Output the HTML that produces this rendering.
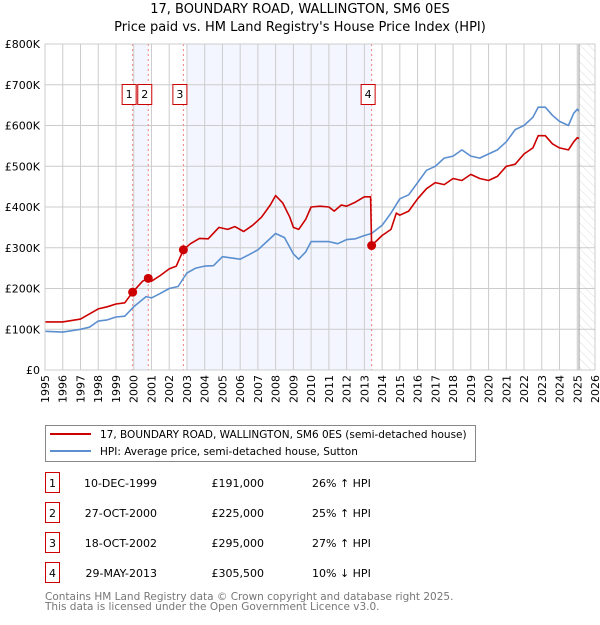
<!DOCTYPE html>
<html><head><meta charset="utf-8"><style>
body{margin:0;background:#fff;font-family:"Liberation Sans","DejaVu Sans",sans-serif;}
svg text{font-family:"DejaVu Sans","Liberation Sans",sans-serif;}
</style></head><body>
<svg id="c" width="600" height="620" xmlns="http://www.w3.org/2000/svg">
<defs><pattern id="hatch" width="6" height="6" patternUnits="userSpaceOnUse" patternTransform="rotate(-45)"><line x1="0" y1="0" x2="0" y2="6" stroke="#d4d4d4" stroke-width="0.8"/></pattern></defs>
<text x="300" y="13" text-anchor="middle" font-size="13">17, BOUNDARY ROAD, WALLINGTON, SM6 0ES</text>
<text x="300" y="31" text-anchor="middle" font-size="13">Price paid vs. HM Land Registry's House Price Index (HPI)</text>
<g id="plot"></g>
<g>
<rect x="45.5" y="425.5" width="430" height="36" fill="#fff" stroke="#888"/>
<line x1="50" y1="434" x2="91" y2="434" stroke="#cc0000" stroke-width="2"/>
<text x="100" y="438" font-size="10.5">17, BOUNDARY ROAD, WALLINGTON, SM6 0ES (semi-detached house)</text>
<line x1="50" y1="451" x2="91" y2="451" stroke="#5b8fd0" stroke-width="2"/>
<text x="100" y="455" font-size="10.5">HPI: Average price, semi-detached house, Sutton</text>
</g>
<g id="table" font-size="11"></g>
<text x="45" y="600" font-size="10.5" fill="#777">Contains HM Land Registry data © Crown copyright and database right 2025.</text>
<text x="45" y="610" font-size="10.5" fill="#777">This data is licensed under the Open Government Licence v3.0.</text>
</svg>
<script>
const hpiDates=[1995,1996,1997,1997.5,1998,1998.5,1999,1999.5,2000,2000.7,2001,2001.5,2002,2002.5,2003,2003.5,2004,2004.5,2005,2005.5,2006,2006.5,2007,2007.5,2008,2008.5,2009,2009.3,2009.7,2010,2011,2011.5,2012,2012.5,2013,2013.4,2014,2014.5,2015,2015.5,2016,2016.5,2017,2017.5,2018,2018.5,2019,2019.5,2020,2020.5,2021,2021.5,2022,2022.5,2022.8,2023.2,2023.6,2024,2024.5,2024.8,2025,2025.1];
const hpiValues=[95,93,100,105,120,123,130,132,155,180,177,188,200,205,238,250,255,256,278,275,272,283,295,315,335,325,285,272,290,315,315,310,320,322,330,335,355,385,420,430,460,490,500,520,525,540,525,520,530,540,560,590,600,620,645,645,625,610,600,630,640,635];
const propDates=[1995,1996,1997,1998,1998.5,1999,1999.5,1999.94,2000.5,2000.82,2001,2001.5,2002,2002.4,2002.8,2003.2,2003.7,2004.2,2004.8,2005.3,2005.7,2006.2,2006.7,2007.2,2007.7,2008,2008.4,2008.8,2009,2009.3,2009.7,2010,2010.5,2011,2011.3,2011.7,2012,2012.5,2013,2013.35,2013.41,2014,2014.5,2014.8,2015,2015.5,2016,2016.5,2017,2017.5,2018,2018.5,2019,2019.5,2020,2020.5,2021,2021.5,2022,2022.5,2022.8,2023.2,2023.6,2024,2024.5,2024.8,2025,2025.1];
const propValues=[118,118,125,150,155,162,165,191,218,225,218,232,248,255,295,310,323,322,350,345,352,340,355,375,405,428,410,375,350,345,370,400,402,400,390,405,402,412,425,425,305.5,330,345,385,380,390,420,445,460,455,470,465,480,470,465,475,500,505,530,545,575,575,555,545,540,560,570,568];
const saleLabels=["1","2","3","4"];
const saleDates=[1999.94,2000.82,2002.8,2013.41];
const saleValues=[191,225,295,305.5];
const saleDateText=["10-DEC-1999","27-OCT-2000","18-OCT-2002","29-MAY-2013"];
const salePriceText=["£191,000","£225,000","£295,000","£305,500"];
const saleHpiText=["26% ↑ HPI","25% ↑ HPI","27% ↑ HPI","10% ↓ HPI"];
const yTicks=[0,100,200,300,400,500,600,700,800];
const yTickLabels=["£0","£100K","£200K","£300K","£400K","£500K","£600K","£700K","£800K"];
const xTicks=[1995,1996,1997,1998,1999,2000,2001,2002,2003,2004,2005,2006,2007,2008,2009,2010,2011,2012,2013,2014,2015,2016,2017,2018,2019,2020,2021,2022,2023,2024,2025,2026];
const shadeRanges=[[2000,2000.82],[2003,2013.41]];
const dataEnd=2025.1;

const L=45,R=595,T=44,B=370;
const x=d=>L+(d-1995)/(2026-1995)*(R-L);
const y=v=>B-v/800*(B-T);
const NS="http://www.w3.org/2000/svg";
const plot=document.getElementById('plot');
function mk(tag,attrs,parent){const e=document.createElementNS(NS,tag);for(const k in attrs)e.setAttribute(k,attrs[k]);(parent||plot).appendChild(e);return e;}

shadeRanges.forEach(r=>{
 const e=mk('rect',{x:x(r[0]),y:T,width:x(r[1])-x(r[0]),height:B-T,fill:'#f3f6fe'});
 
 
});
const h=mk('rect',{x:x(dataEnd),y:T,width:R-x(dataEnd),height:B-T,fill:'url(#hatch)'});



yTicks.forEach((v,i)=>{
 const g=mk('line',{x1:L,x2:R,y1:y(v),y2:y(v),stroke:'#ccc','stroke-width':1});
 
 
 const t=mk('text',{x:40,y:y(v)+4,'text-anchor':'end','font-size':11});
 t.textContent=yTickLabels[i];
 
 
});
xTicks.forEach(d=>{
 const g=mk('line',{x1:x(d),x2:x(d),y1:T,y2:B,stroke:'#ccc','stroke-width':1});
 
 
 const t=mk('text',{x:0,y:0,'text-anchor':'end','font-size':11,transform:`translate(${x(d)+4},${B+5}) rotate(-90)`});
 t.textContent=d;
 
 
});
const ve=mk('line',{x1:x(dataEnd),x2:x(dataEnd),y1:T,y2:B,stroke:'#999','stroke-width':1});



saleDates.forEach((d,i)=>{
 const l=mk('line',{x1:x(d),x2:x(d),y1:T,y2:B,stroke:'#f08080','stroke-width':1,'stroke-dasharray':'2,3'});
 
 
});

function path(ds,vs,col,name){
 const p=mk('path',{d:ds.map((d,i)=>(i?'L':'M')+x(d).toFixed(1)+','+y(vs[i]).toFixed(1)).join(''),fill:'none',stroke:col,'stroke-width':1.6,'stroke-linejoin':'round'});
 
 
}
path(hpiDates,hpiValues,'#5b8fd0','hpi-line');
path(propDates,propValues,'#cc0000','property-price-line');

let prevRight=-1e9;
saleDates.forEach((d,i)=>{
 const c=mk('circle',{cx:x(d),cy:y(saleValues[i]),r:4.5,fill:'#cc0000'});
 
 
 let left=x(d)-11;
 if(left<prevRight+1)left=prevRight+1;
 prevRight=left+14;
 const b=mk('rect',{x:left+0.5,y:84.5,width:14,height:20,fill:'#fff',stroke:'#cc0000'});
 
 
 const t=mk('text',{x:left+7.5,y:98,'text-anchor':'middle','font-size':11});
 t.textContent=saleLabels[i];
 
 
});
const ax=mk('rect',{x:L,y:T,width:R-L,height:B-T,fill:'none',stroke:'#ccc'});



const tb=document.getElementById('table');
saleLabels.forEach((s,i)=>{
 const cy=483+i*30;
 const b=mk('rect',{x:45.5,y:cy-10.5,width:14,height:20,fill:'#fff',stroke:'#cc0000'},tb);
 
 
 const cols=[[52.5,'middle',s,'table-number'],[157,'end',saleDateText[i],'table-date'],[264,'end',salePriceText[i],'table-price'],[312,'start',saleHpiText[i],'table-hpi-change']];
 cols.forEach(c=>{
  const t=mk('text',{x:c[0],y:cy+4,'text-anchor':c[1]},tb);
  t.textContent=c[2];
  
  
 });
});
</script>
</body></html>
